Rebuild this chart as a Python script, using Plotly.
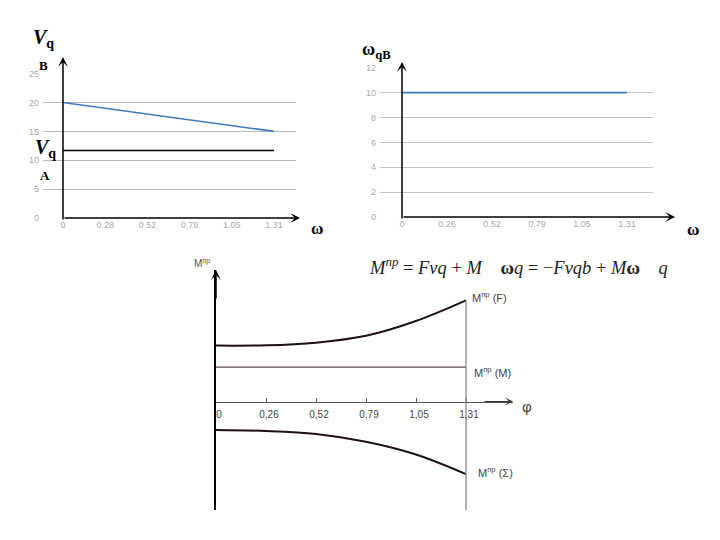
import plotly.graph_objects as go

W, H = 720, 540

# ---------------- data ----------------
omega_ticks_1 = ["0", "0.28", "0.52", "0.79", "1.05", "1.31"]
omega_ticks_2 = ["0", "0.26", "0.52", "0.79", "1.05", "1.31"]
phi_ticks_3 = ["0", "0,26", "0,52", "0,79", "1,05", "1,31"]
y_ticks_1 = [0, 5, 10, 15, 20, 25]
y_ticks_2 = [0, 2, 4, 6, 8, 10, 12]

vq_b = [20, 19, 18, 17, 16, 15]          # V_q (B)
vq_a = [11.7, 11.7, 11.7, 11.7, 11.7, 11.7]  # V_q (A)
omega_qb = [10, 10, 10, 10, 10, 10]
m_force = [5.7, 5.73, 6.0, 6.7, 8.2, 10.3]     # M^np (F)
m_moment = [3.5, 3.5, 3.5, 3.5, 3.5, 3.5]      # M^np (M)
m_sum = [-2.9, -3.0, -3.3, -4.1, -5.4, -7.4]   # M^np (Σ)

idx1 = list(range(len(omega_ticks_1)))
idx2 = list(range(len(omega_ticks_2)))
idx3 = list(range(len(phi_ticks_3)))

# ---------------- layout geometry (pixels) ----------------
P1 = dict(x0=43, x1=296, y0=70, y1=217, xr=[-0.474, 5.521], yr=[0, 25])
P2 = dict(x0=380, x1=653, y0=64, y1=216, xr=[-0.489, 5.578], yr=[0, 12])
P3 = dict(x0=216, x1=513, y0=270, y1=515, xr=[0, 5.94], yr=[-11.1, 13.4])
AX3_Y = 404


def px(p, xv):
    return p["x0"] + (xv - p["xr"][0]) / (p["xr"][1] - p["xr"][0]) * (p["x1"] - p["x0"])


def py(p, yv):
    return p["y1"] - (yv - p["yr"][0]) / (p["yr"][1] - p["yr"][0]) * (p["y1"] - p["y0"])


def dom_x(p):
    return [p["x0"] / W, p["x1"] / W]


def dom_y(p):
    return [1 - p["y1"] / H, 1 - p["y0"] / H]


fig = go.Figure()

BLUE = "#3b7cc0"
CURVE = "#1e1212"

fig.add_trace(go.Scatter(x=idx1, y=vq_b, mode="lines", line=dict(color=BLUE, width=1.6),
                         xaxis="x", yaxis="y", showlegend=False))
fig.add_trace(go.Scatter(x=idx1, y=vq_a, mode="lines", line=dict(color="black", width=1.5),
                         xaxis="x", yaxis="y", showlegend=False))
fig.add_trace(go.Scatter(x=idx2, y=omega_qb, mode="lines", line=dict(color=BLUE, width=1.6),
                         xaxis="x2", yaxis="y2", showlegend=False))
fig.add_trace(go.Scatter(x=idx3, y=m_force, mode="lines", line=dict(color=CURVE, width=2, shape="spline"),
                         xaxis="x3", yaxis="y3", showlegend=False, cliponaxis=False))
fig.add_trace(go.Scatter(x=idx3, y=m_moment, mode="lines", line=dict(color="#5e4b4b", width=1.3),
                         xaxis="x3", yaxis="y3", showlegend=False, cliponaxis=False))
fig.add_trace(go.Scatter(x=idx3, y=m_sum, mode="lines", line=dict(color=CURVE, width=2, shape="spline"),
                         xaxis="x3", yaxis="y3", showlegend=False, cliponaxis=False))

tickfont_light = dict(family="Liberation Sans", size=9, color="#a8a8a8")

fig.update_layout(
    width=W, height=H,
    margin=dict(l=0, r=0, t=0, b=0),
    paper_bgcolor="white", plot_bgcolor="white",
    showlegend=False,
    xaxis=dict(domain=dom_x(P1), range=P1["xr"], anchor="y", tickvals=idx1, ticktext=omega_ticks_1,
               showgrid=False, zeroline=False, showline=False, ticks="", tickfont=tickfont_light),
    yaxis=dict(domain=dom_y(P1), range=P1["yr"], anchor="x", tickvals=y_ticks_1,
               showgrid=True, gridcolor="#b8b8b8", gridwidth=1, zeroline=False, showline=False,
               ticks="", tickfont=tickfont_light, ticklabelstandoff=3),
    xaxis2=dict(domain=dom_x(P2), range=P2["xr"], anchor="y2", tickvals=idx2, ticktext=omega_ticks_2,
                showgrid=False, zeroline=False, showline=False, ticks="", tickfont=tickfont_light),
    yaxis2=dict(domain=dom_y(P2), range=P2["yr"], anchor="x2", tickvals=y_ticks_2,
                showgrid=True, gridcolor="#c4c4c4", gridwidth=1, zeroline=False, showline=False,
                ticks="", tickfont=tickfont_light, ticklabelstandoff=3),
    xaxis3=dict(domain=dom_x(P3), range=P3["xr"], anchor="free", position=1 - AX3_Y / H,
                tickvals=idx3, ticktext=phi_ticks_3, ticks="inside", ticklen=4, tickcolor="#555",
                showline=True, linecolor="#555", linewidth=1, showgrid=False, zeroline=False,
                ticklabelshift=3, ticklabelstandoff=3,
                tickfont=dict(family="Liberation Sans", size=10, color="#444")),
    yaxis3=dict(domain=dom_y(P3), range=P3["yr"], anchor="x3", showline=True, linecolor="black",
                linewidth=1.5, showticklabels=False, showgrid=False, zeroline=False, ticks=""),
)

# vertical line at the last φ value
fig.add_shape(type="line", xref="x3", yref="y3", x0=idx3[-1], x1=idx3[-1],
              y0=P3["yr"][0], y1=m_force[-1], line=dict(color="#808080", width=1.2))


def arrow(hx, hy, ax, ay, width=1.5, color="black"):
    fig.add_annotation(x=hx / W, y=1 - hy / H, xref="paper", yref="paper", text="",
                       showarrow=True, ax=ax, ay=ay, axref="pixel", ayref="pixel",
                       arrowhead=3, arrowsize=1.1, arrowwidth=width, arrowcolor=color, standoff=0)


# axes with arrowheads, chart 1
o1x, o1y = px(P1, 0), py(P1, 0)
arrow(o1x, 53, 0, o1y - 53)
arrow(300, o1y, -(300 - o1x), 0)
# chart 2
o2x, o2y = px(P2, 0), py(P2, 0)
arrow(o2x, 58, 0, o2y - 58)
arrow(675, o2y, -(675 - o2x), 0)
# chart 3
o3x = px(P3, 0)
arrow(o3x, 270, 0, 30)
arrow(513, AX3_Y, -30, 0, width=1.2, color="#333")


def label(text, x, y, size, family="Liberation Serif", color="black", xanchor="center", yanchor="middle"):
    fig.add_annotation(x=x / W, y=1 - y / H, xref="paper", yref="paper", text=text, showarrow=False,
                       xanchor=xanchor, yanchor=yanchor, font=dict(family=family, size=size, color=color))


label("<b><i>V</i></b><b><sub>q</sub></b>", 43, 34, 20)
label("<b>B</b>", 43, 62, 13)
label("<b><i>V</i></b><b><sub>q</sub></b>", 45, 146, 20)
label("<b>A</b>", 45, 174, 13)
label("<b>ω</b>", 317, 228, 17)

label("<b>ω<sub>qB</sub></b>", 376, 46, 18)
label("<b>ω</b>", 693, 229, 17)

label("M<sup>пр</sup>", 202, 263, 10, family="Liberation Sans", color="#555")
label("φ", 527, 409, 15, family="Liberation Sans", color="#444")
label("M<sup>пр</sup> (F)", 470, 298, 11, family="Liberation Sans", color="#444", xanchor="left")
label("M<sup>пр</sup> (M)", 472, 374, 11, family="Liberation Sans", color="#444", xanchor="left")
label("M<sup>пр</sup> (Σ)", 476, 476, 11, family="Liberation Sans", color="#444", xanchor="left")

sp = "\u00a0"
formula = ("<i>M</i><sup><i>np</i></sup> = <i>Fvq</i> + <i>M</i>" + sp * 4 + "<b>ω</b><i>q</i> = −<i>Fvqb</i> + "
           "<i>M</i><b>ω</b>" + sp * 4 + "<i>q</i>")
label(formula, 367, 266, 18.5, xanchor="left", color="#222")

fig.write_html("out.html")
